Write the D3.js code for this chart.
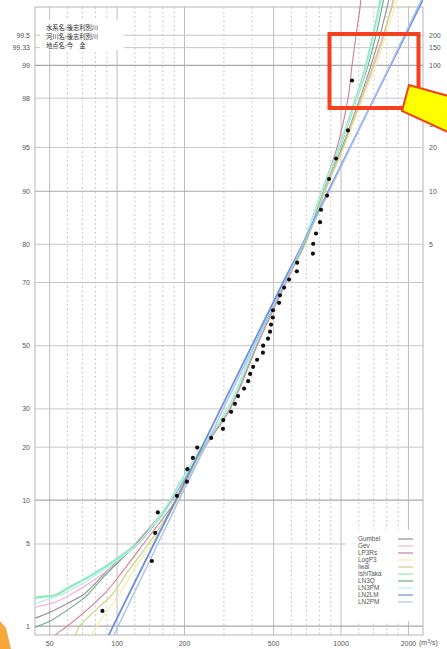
<!DOCTYPE html>
<html>
<head>
<meta charset="utf-8">
<script src="https://cdn.jsdelivr.net/npm/d3@7"></script>
<style>
  body { margin: 0; background: #fff; }
  svg { display: block; font-family: "Liberation Sans", Arial, sans-serif; }
</style>
</head>
<body>
<div id="chart"></div>
<script>
// non-exceedance probability ticks (%) on the left
const PROB_TICKS = [1, 5, 10, 20, 30, 50, 70, 80, 90, 95, 98, 99, 99.33, 99.5];
const PROB_DARK = [1, 10, 90, 99];
// return period labels on the right (years)
const RETURN_PERIODS = [5, 10, 20, 30, 50, 100, 150, 200];
const Q_MAJOR = [50, 100, 200, 500, 1000, 2000];
const Q_MINOR = [60, 70, 80, 90, 120, 140, 160, 180, 300, 400, 600, 700, 800, 900, 1200, 1400, 1600, 1800];

const INFO = ['水系名:後志利別川', '河川名:後志利別川', '地点名:今　金'];

// annual max discharge (m3/s), sorted
const OBSERVED = [86, 143, 148, 152, 185, 205, 206, 218, 228, 263, 297, 298, 323, 336, 347,
  369, 385, 393, 405, 422, 448, 449, 472, 482, 487, 496, 497, 529, 534, 557, 586,
  635, 637, 749, 751, 773, 806, 814, 866, 884, 950, 1074, 1120];

const SERIES = ['Gumbel', 'Gev', 'LP3Rs', 'LogP3', 'Iwai', 'IshiTaka', 'LN3Q', 'LN3PM', 'LN2LM', 'LN2PM'];
const COLORS = ['#8e8e96', '#f2b4da', '#cf7d98', '#eef0a8', '#c9d184', '#8eeab8', '#6fa882', '#bdeff0', '#6f8fd6', '#a9c4f2'];
const WIDTHS = [1.1, 1.2, 1.1, 1.2, 1.2, 2.2, 1.1, 1.4, 1.8, 1.4];

// fitted curves: [probability %, discharge]
const GUMBEL = [[0.9, 30], [1.19, 43], [1.32, 49], [1.92, 70], [2, 72], [3, 89], [3.76, 101], [5, 124], [10, 176],
  [20, 242], [30, 316], [50, 417], [70, 562], [80, 684], [90, 840], [95, 1010], [98, 1216], [99, 1361],
  [99.5, 1494], [99.75, 1605], [99.9, 1742]];
const GEV = [[1.2, 32], [1.5, 43], [1.67, 53], [2.13, 67], [3, 88], [4.34, 112], [5, 120], [10, 176],
  [20, 242], [30, 316], [50, 413], [70, 562], [80, 684], [90, 840], [95, 1021], [98, 1241], [99, 1404],
  [99.5, 1556], [99.75, 1672], [99.9, 1835]];
const LP3RS = [[0.5, 45], [0.82, 53], [1, 60], [2, 88], [3, 105], [5, 131], [10, 183], [20, 247], [30, 320],
  [50, 422], [70, 568], [80, 684], [90, 823], [95, 960], [98, 1075], [99, 1120], [99.5, 1167],
  [99.75, 1216], [99.9, 1253]];
const LOGP3 = [[0.6, 70], [0.82, 77], [1, 81], [2, 103], [3, 117], [5, 142], [10, 187], [20, 245], [30, 316],
  [50, 417], [70, 562], [80, 691], [90, 848], [95, 1031], [98, 1253], [99, 1433], [99.5, 1588],
  [99.75, 1742], [99.9, 1931]];
const IWAI = [[0.6, 58], [0.82, 65], [1, 68], [2, 96], [3, 111], [5, 138], [10, 185], [20, 245], [30, 316],
  [50, 417], [70, 562], [80, 691], [90, 848], [95, 1021], [98, 1229], [99, 1390], [99.5, 1540],
  [99.75, 1689], [99.9, 1853]];
const ISHITAKA = [[1, 28], [1.81, 43], [1.92, 53], [2.21, 60], [2.85, 77], [3.76, 98], [4.9, 120], [7.05, 148],
  [8.6, 164], [10, 173], [20, 240], [30, 313], [50, 413], [70, 557], [80, 677], [90, 823], [95, 980],
  [98, 1167], [99, 1293], [99.5, 1390], [99.75, 1478], [99.9, 1573]];
const LN3Q = [[0.8, 35], [0.97, 43], [1.14, 51], [1.85, 72], [2, 75], [3, 91], [5, 122], [10, 174], [20, 242],
  [30, 316], [50, 417], [70, 562], [80, 684], [90, 831], [95, 990], [98, 1179], [99, 1320], [99.5, 1433],
  [99.75, 1524], [99.9, 1638]];
const LN3PM = [[1, 30], [1.6, 43], [2, 58], [3, 84], [5, 123], [10, 173], [20, 240], [30, 314], [50, 414],
  [70, 558], [80, 678], [90, 826], [95, 985], [98, 1175], [99, 1305], [99.5, 1405], [99.75, 1495], [99.9, 1595]];
const LN2LM = [[0.5, 83], [1, 96], [5, 146], [10, 183], [20, 239], [30, 290], [50, 400], [70, 551], [80, 674],
  [90, 878], [95, 1097], [99, 1664], [99.75, 2233], [99.9, 2665]];
const LN2PM = [[0.5, 87], [1, 101], [5, 152], [10, 189], [20, 247], [30, 298], [50, 409], [70, 560], [80, 677],
  [90, 885], [95, 1100], [99, 1656], [99.75, 2201], [99.9, 2619]];
const CURVES = [GUMBEL, GEV, LP3RS, LOGP3, IWAI, ISHITAKA, LN3Q, LN3PM, LN2LM, LN2PM];

// inverse standard normal (Acklam)
function probit(p) {
  const a = [-39.6968302866538, 220.946098424521, -275.928510446969, 138.357751867269, -30.6647980661472, 2.50662827745924];
  const b = [-54.4760987982241, 161.585836858041, -155.698979859887, 66.8013118877197, -13.2806815528857];
  const c = [-0.00778489400243029, -0.322396458041136, -2.40075827716184, -2.54973253934373, 4.37466414146497, 2.93816398269878];
  const d = [0.00778469570904146, 0.32246712907004, 2.445134137143, 3.75440866190742];
  const pl = 0.02425;
  let q, r;
  if (p < pl) {
    q = Math.sqrt(-2 * Math.log(p));
    return (((((c[0] * q + c[1]) * q + c[2]) * q + c[3]) * q + c[4]) * q + c[5]) / ((((d[0] * q + d[1]) * q + d[2]) * q + d[3]) * q + 1);
  }
  if (p > 1 - pl) {
    q = Math.sqrt(-2 * Math.log(1 - p));
    return -(((((c[0] * q + c[1]) * q + c[2]) * q + c[3]) * q + c[4]) * q + c[5]) / ((((d[0] * q + d[1]) * q + d[2]) * q + d[3]) * q + 1);
  }
  q = p - 0.5; r = q * q;
  return (((((a[0] * r + a[1]) * r + a[2]) * r + a[3]) * r + a[4]) * r + a[5]) * q / (((((b[0] * r + b[1]) * r + b[2]) * r + b[3]) * r + b[4]) * r + 1);
}

const W = 447, H = 649;
const pLeft = 35, pRight = 423, pTop = 7, pBottom = 635;

const x = d3.scaleLog().domain([43, 2323]).range([pLeft, pRight]);
const zScale = d3.scaleLinear().domain([-2.40, 2.81]).range([pBottom, pTop]);
const y = p => zScale(probit(p / 100));

const svg = d3.select('#chart').append('svg').attr('width', W).attr('height', H);

svg.append('defs').append('clipPath').attr('id', 'plot')
  .append('rect').attr('x', pLeft).attr('y', -20).attr('width', pRight - pLeft).attr('height', pBottom + 20);

const grid = svg.append('g');
grid.selectAll('.vminor').data(Q_MINOR).join('line')
  .attr('x1', d => x(d)).attr('x2', d => x(d)).attr('y1', pTop).attr('y2', pBottom)
  .attr('stroke', '#c4c4c4').attr('stroke-width', 0.9).attr('stroke-dasharray', '2,2.5');
grid.selectAll('.vmajor').data(Q_MAJOR).join('line')
  .attr('x1', d => x(d)).attr('x2', d => x(d)).attr('y1', pTop).attr('y2', pBottom)
  .attr('stroke', '#bdbdbd').attr('stroke-width', 1);
grid.selectAll('.h').data(PROB_TICKS).join('line')
  .attr('x1', pLeft).attr('x2', pRight).attr('y1', d => y(d)).attr('y2', d => y(d))
  .attr('stroke', d => PROB_DARK.includes(d) ? '#a9a9a9' : '#c6c6c6')
  .attr('stroke-width', d => PROB_DARK.includes(d) ? 1.2 : 1);

// frame
svg.append('rect').attr('x', pLeft).attr('y', pTop).attr('width', pRight - pLeft).attr('height', pBottom - pTop)
  .attr('fill', 'none').attr('stroke', '#b5b5b5').attr('stroke-width', 1);

// info box
svg.append('rect').attr('x', 40).attr('y', 20).attr('width', 84).attr('height', 30).attr('fill', '#fff');
svg.append('g').selectAll('text').data(INFO).join('text')
  .attr('x', 46).attr('y', (d, i) => 29.6 + i * 9.2)
  .attr('font-family', '"Noto Sans CJK JP", sans-serif').attr('font-size', 6.3)
  .attr('fill', '#2a2a2a').text(d => d);

// fitted curves
const line = d3.line().x(d => x(d[1])).y(d => y(d[0])).curve(d3.curveCatmullRom.alpha(0.5));
svg.append('g').attr('clip-path', 'url(#plot)')
  .selectAll('path').data(CURVES).join('path')
  .attr('d', line).attr('fill', 'none')
  .attr('stroke', (d, i) => COLORS[i]).attr('stroke-width', (d, i) => WIDTHS[i]);

// observed points, Cunnane plotting position
const n = OBSERVED.length;
svg.append('g').selectAll('circle').data(OBSERVED).join('circle')
  .attr('cx', d => x(d)).attr('cy', (d, i) => y(100 * (i + 1 - 0.4) / (n + 0.2)))
  .attr('r', 2.1).attr('fill', '#111');

// left axis labels
svg.append('g').selectAll('text').data(PROB_TICKS).join('text')
  .attr('x', 30).attr('y', d => y(d) + 2.5).attr('text-anchor', 'end')
  .attr('font-size', 7).attr('fill', '#555').text(d => d);

// right axis labels
svg.append('g').selectAll('text').data(RETURN_PERIODS).join('text')
  .attr('x', 429).attr('y', d => y(100 * (1 - 1 / d)) + 2.5)
  .attr('font-size', 7).attr('fill', '#555').text(d => d);

// bottom axis labels
svg.append('g').selectAll('text').data(Q_MAJOR).join('text')
  .attr('x', d => x(d)).attr('y', 646).attr('text-anchor', 'middle')
  .attr('font-size', 7).attr('fill', '#555').text(d => d);
const unit = svg.append('text').attr('x', 419).attr('y', 645).attr('font-size', 7).attr('fill', '#555');
unit.append('tspan').text('(m');
unit.append('tspan').attr('font-size', 5).attr('dy', -2.5).text('3');
unit.append('tspan').attr('dy', 2.5).text('/s)');

// legend
svg.append('rect').attr('x', 346).attr('y', 530).attr('width', 76).attr('height', 91).attr('fill', '#fff');
const lg = svg.append('g').selectAll('g').data(SERIES).join('g')
  .attr('transform', (d, i) => `translate(0,${539 + i * 7})`);
lg.append('text').attr('x', 358).attr('y', 2.2).attr('font-size', 6.4).attr('fill', '#555').text(d => d);
lg.append('line').attr('x1', 398).attr('x2', 413).attr('y1', 0).attr('y2', 0)
  .attr('stroke', (d, i) => COLORS[i]).attr('stroke-width', 1.2);

// annotation marks
svg.append('rect').attr('x', 329.5).attr('y', 34).attr('width', 89).attr('height', 74)
  .attr('fill', 'none').attr('stroke', '#f4401e').attr('stroke-width', 4);
svg.append('polygon').attr('points', '409,85 452,97 452,134 402,111')
  .attr('fill', '#ffff00').attr('stroke', '#f4401e').attr('stroke-width', 2);
svg.append('polygon').attr('points', '0,621 6,628 11,649 0,649').attr('fill', '#f7a83a');
</script>
</body>
</html>
